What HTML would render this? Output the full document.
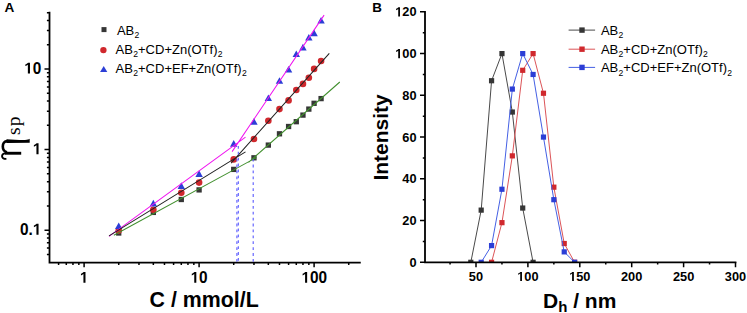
<!DOCTYPE html>
<html><head><meta charset="utf-8"><style>
html,body{margin:0;padding:0;background:#fff;}
body{width:747px;height:313px;overflow:hidden;}
svg{display:block;}
</style></head><body>
<svg width="747" height="313" viewBox="0 0 747 313">
<rect width="747" height="313" fill="#fff"/>
<path d="M49.50,12.66V262.60H359.86" fill="none" stroke="#000" stroke-width="1.8" stroke-linecap="square"/>
<path d="M49.50,254.46h-2.6 M49.50,248.08h-2.6 M49.50,242.69h-2.6 M49.50,238.01h-2.6 M49.50,233.89h-2.6 M49.50,230.20h-5.0 M49.50,205.94h-2.6 M49.50,191.74h-2.6 M49.50,181.67h-2.6 M49.50,173.86h-2.6 M49.50,167.48h-2.6 M49.50,162.09h-2.6 M49.50,157.41h-2.6 M49.50,153.29h-2.6 M49.50,149.60h-5.0 M49.50,125.34h-2.6 M49.50,111.14h-2.6 M49.50,101.07h-2.6 M49.50,93.26h-2.6 M49.50,86.88h-2.6 M49.50,81.49h-2.6 M49.50,76.81h-2.6 M49.50,72.69h-2.6 M49.50,69.00h-5.0 M49.50,44.74h-2.6 M49.50,30.54h-2.6 M49.50,20.47h-2.6 M49.50,12.66h-2.6 M58.59,262.60v2.4 M66.29,262.60v2.4 M72.96,262.60v2.4 M78.84,262.60v2.4 M84.10,262.60v4.6 M118.72,262.60v2.4 M138.97,262.60v2.4 M153.34,262.60v2.4 M164.48,262.60v2.4 M173.59,262.60v2.4 M181.29,262.60v2.4 M187.96,262.60v2.4 M193.84,262.60v2.4 M199.10,262.60v4.6 M233.72,262.60v2.4 M253.97,262.60v2.4 M268.34,262.60v2.4 M279.48,262.60v2.4 M288.59,262.60v2.4 M296.29,262.60v2.4 M302.96,262.60v2.4 M308.84,262.60v2.4 M314.10,262.60v4.6 M348.72,262.60v2.4" fill="none" stroke="#000" stroke-width="1.5"/>
<g font-family='"Liberation Sans", sans-serif' font-weight="bold" font-size="15.4" fill="#000">
<g transform="translate(0,73.60) scale(1,1.02) translate(0,-73.60)"><path d="M478,0V1165C390,1077 272,1017 140,979V1197C262,1243 420,1330 500,1430H759V0Z" transform="translate(24.27,73.60) scale(0.00752,-0.00752)"/><text x="32.84" y="73.60">0</text></g>
<g transform="translate(0,154.20) scale(1,1.02) translate(0,-154.20)"><path d="M478,0V1165C390,1077 272,1017 140,979V1197C262,1243 420,1330 500,1430H759V0Z" transform="translate(32.84,154.20) scale(0.00752,-0.00752)"/></g>
<g transform="translate(0,234.80) scale(1,1.02) translate(0,-234.80)"><text x="19.99" y="234.80">0.</text><path d="M478,0V1165C390,1077 272,1017 140,979V1197C262,1243 420,1330 500,1430H759V0Z" transform="translate(32.84,234.80) scale(0.00752,-0.00752)"/></g>
<g transform="translate(0,282.80) scale(1,1.02) translate(0,-282.80)"><path d="M478,0V1165C390,1077 272,1017 140,979V1197C262,1243 420,1330 500,1430H759V0Z" transform="translate(79.93,282.80) scale(0.00732,-0.00732)"/></g>
<g transform="translate(0,282.80) scale(1,1.02) translate(0,-282.80)"><path d="M478,0V1165C390,1077 272,1017 140,979V1197C262,1243 420,1330 500,1430H759V0Z" transform="translate(190.76,282.80) scale(0.00732,-0.00732)"/><text x="199.10" y="282.80">0</text></g>
<g transform="translate(0,282.80) scale(1,1.02) translate(0,-282.80)"><path d="M478,0V1165C390,1077 272,1017 140,979V1197C262,1243 420,1330 500,1430H759V0Z" transform="translate(301.59,282.80) scale(0.00732,-0.00732)"/><text x="309.93" y="282.80">00</text></g>
</g>
<text x="149.6" y="306.5" font-family='"Liberation Sans", sans-serif' font-weight="bold" font-size="21.35">C / mmol/L</text>
<text transform="translate(19.5,135) rotate(-90)" font-family='"Liberation Serif", serif' font-size="19.5" letter-spacing="1.2" fill="#000">sp</text>
<path d="M6.5,139.25C12,139.7 20,140.1 25,140C27.5,139.9 28.8,139.4 29.7,138.8L29.7,142.7L8,142.95L6.5,142.95Z" fill="#000"/><g fill="none" stroke="#000"><path d="M7.5,141.1C4,141.1 2.8,143.5 2.8,146.5C2.8,149.5 4.3,151.6 7,152.3" stroke-width="2.6"/><path d="M21.2,153.25L5,153.25" stroke-width="2.9"/><path d="M5.5,153.3C2.8,153.5 1.9,155 2.1,156.6C2.4,158.3 4,159 6.4,158.9" stroke-width="1.9"/></g>
<text x="4.4" y="11.8" font-family='"Liberation Sans", sans-serif' font-weight="bold" font-size="13.6">A</text>
<text x="372.2" y="11.8" font-family='"Liberation Sans", sans-serif' font-weight="bold" font-size="13.4">B</text>
<rect x="116.07" y="230.35" width="5.3" height="5.3" fill="#363636"/>
<rect x="150.69" y="209.75" width="5.3" height="5.3" fill="#363636"/>
<rect x="178.64" y="196.85" width="5.3" height="5.3" fill="#363636"/>
<rect x="196.45" y="187.25" width="5.3" height="5.3" fill="#363636"/>
<rect x="231.07" y="166.75" width="5.3" height="5.3" fill="#363636"/>
<rect x="251.32" y="155.15" width="5.3" height="5.3" fill="#363636"/>
<rect x="265.69" y="142.45" width="5.3" height="5.3" fill="#363636"/>
<rect x="276.83" y="131.15" width="5.3" height="5.3" fill="#363636"/>
<rect x="285.94" y="123.85" width="5.3" height="5.3" fill="#363636"/>
<rect x="293.64" y="119.05" width="5.3" height="5.3" fill="#363636"/>
<rect x="300.31" y="112.45" width="5.3" height="5.3" fill="#363636"/>
<rect x="306.19" y="106.45" width="5.3" height="5.3" fill="#363636"/>
<rect x="311.45" y="100.65" width="5.3" height="5.3" fill="#363636"/>
<rect x="318.43" y="95.95" width="5.3" height="5.3" fill="#363636"/>
<circle cx="118.72" cy="230.60" r="3.3" fill="#d0282d"/>
<circle cx="153.34" cy="209.80" r="3.3" fill="#d0282d"/>
<circle cx="181.29" cy="192.80" r="3.3" fill="#d0282d"/>
<circle cx="199.10" cy="182.60" r="3.3" fill="#d0282d"/>
<circle cx="233.72" cy="159.40" r="3.3" fill="#d0282d"/>
<circle cx="253.97" cy="139.00" r="3.3" fill="#d0282d"/>
<circle cx="268.34" cy="120.80" r="3.3" fill="#d0282d"/>
<circle cx="279.48" cy="109.10" r="3.3" fill="#d0282d"/>
<circle cx="288.59" cy="100.40" r="3.3" fill="#d0282d"/>
<circle cx="296.29" cy="90.00" r="3.3" fill="#d0282d"/>
<circle cx="302.96" cy="83.90" r="3.3" fill="#d0282d"/>
<circle cx="308.84" cy="77.70" r="3.3" fill="#d0282d"/>
<circle cx="314.10" cy="68.90" r="3.3" fill="#d0282d"/>
<circle cx="321.08" cy="61.00" r="3.3" fill="#d0282d"/>
<path d="M118.72,222.40L122.42,229.00H115.02Z" fill="#2c3ed6"/>
<path d="M153.34,199.80L157.04,206.40H149.64Z" fill="#2c3ed6"/>
<path d="M181.29,182.30L184.99,188.90H177.59Z" fill="#2c3ed6"/>
<path d="M199.10,170.30L202.80,176.90H195.40Z" fill="#2c3ed6"/>
<path d="M233.72,140.10L237.42,146.70H230.02Z" fill="#2c3ed6"/>
<path d="M253.97,118.10L257.67,124.70H250.27Z" fill="#2c3ed6"/>
<path d="M268.34,94.50L272.04,101.10H264.64Z" fill="#2c3ed6"/>
<path d="M279.48,77.20L283.18,83.80H275.78Z" fill="#2c3ed6"/>
<path d="M288.59,65.90L292.29,72.50H284.89Z" fill="#2c3ed6"/>
<path d="M296.29,50.50L299.99,57.10H292.59Z" fill="#2c3ed6"/>
<path d="M302.96,43.80L306.66,50.40H299.26Z" fill="#2c3ed6"/>
<path d="M308.84,33.90L312.54,40.50H305.14Z" fill="#2c3ed6"/>
<path d="M314.10,29.60L317.80,36.20H310.40Z" fill="#2c3ed6"/>
<path d="M321.08,17.00L324.78,23.60H317.38Z" fill="#2c3ed6"/>
<g fill="none" stroke-width="1.05">
<path d="M109,236.3L245.5,137.2M232.1,151.6L324.1,15.1" stroke="#f014f0"/>
<path d="M109,235.9L245.5,151.9M231.1,163.2L329.3,53.3" stroke="#222"/>
<path d="M113.8,235.3L256.5,157.5M248.5,162.4L339.8,82.0" stroke="#42902f"/>
</g>
<g stroke="#5a5aff" stroke-width="1.1" stroke-dasharray="2.8,3.1" stroke-dashoffset="5.1" fill="none">
<path d="M236.9,262.6V157.2"/>
<path d="M238.3,261.6V143.1"/>
<path d="M253.2,262.6V159.2"/>
</g>
<rect x="101.5" y="27.1" width="5" height="5" fill="#363636"/>
<circle cx="103.4" cy="50.1" r="3.2" fill="#d0282d"/>
<path d="M103.7,65.9L107.3,72.1H100.1Z" fill="#2c3ed6"/>
<text x="116.9" y="34.7" font-family='"Liberation Sans", sans-serif' font-size="13.0" fill="#000"><tspan>AB</tspan><tspan font-size="8.58" dy="3.1" dx="0.3">2</tspan><tspan dy="-3.1">&#8203;</tspan></text>
<text x="115.6" y="53.9" font-family='"Liberation Sans", sans-serif' font-size="13.0" fill="#000"><tspan>AB</tspan><tspan font-size="8.58" dy="3.1" dx="0.3">2</tspan><tspan dy="-3.1">&#8203;</tspan><tspan>+CD+Zn(OTf)</tspan><tspan font-size="8.58" dy="3.1" dx="0.3">2</tspan><tspan dy="-3.1">&#8203;</tspan></text>
<text x="115.6" y="73.3" font-family='"Liberation Sans", sans-serif' font-size="13.0" fill="#000"><tspan>AB</tspan><tspan font-size="8.58" dy="3.1" dx="0.3">2</tspan><tspan dy="-3.1">&#8203;</tspan><tspan>+CD+EF+Zn(OTf)</tspan><tspan font-size="8.58" dy="3.1" dx="0.3">2</tspan><tspan dy="-3.1">&#8203;</tspan></text>
<defs><clipPath id="cb"><rect x="425" y="0" width="320" height="262.3"/></clipPath></defs><g clip-path="url(#cb)">
<polyline points="470.81,262.30 481.19,210.12 491.57,80.73 501.95,53.60 512.33,112.04 522.71,208.04 533.09,262.30" fill="none" stroke="#4a4a4a" stroke-width="1"/>
<rect x="468.21" y="259.70" width="5.2" height="5.2" fill="#363636"/>
<rect x="478.59" y="207.53" width="5.2" height="5.2" fill="#363636"/>
<rect x="488.97" y="78.13" width="5.2" height="5.2" fill="#363636"/>
<rect x="499.35" y="51.00" width="5.2" height="5.2" fill="#363636"/>
<rect x="509.73" y="109.44" width="5.2" height="5.2" fill="#363636"/>
<rect x="520.11" y="205.44" width="5.2" height="5.2" fill="#363636"/>
<rect x="530.49" y="259.70" width="5.2" height="5.2" fill="#363636"/>
<polyline points="491.57,262.30 501.95,222.65 512.33,155.86 522.71,70.30 533.09,53.60 543.47,93.25 553.85,187.17 564.23,243.52 574.61,262.30" fill="none" stroke="#dc5458" stroke-width="1"/>
<rect x="488.97" y="259.70" width="5.2" height="5.2" fill="#d0282d"/>
<rect x="499.35" y="220.05" width="5.2" height="5.2" fill="#d0282d"/>
<rect x="509.73" y="153.26" width="5.2" height="5.2" fill="#d0282d"/>
<rect x="520.11" y="67.70" width="5.2" height="5.2" fill="#d0282d"/>
<rect x="530.49" y="51.00" width="5.2" height="5.2" fill="#d0282d"/>
<rect x="540.87" y="90.65" width="5.2" height="5.2" fill="#d0282d"/>
<rect x="551.25" y="184.57" width="5.2" height="5.2" fill="#d0282d"/>
<rect x="561.63" y="240.92" width="5.2" height="5.2" fill="#d0282d"/>
<rect x="572.01" y="259.70" width="5.2" height="5.2" fill="#d0282d"/>
<polyline points="481.19,262.30 491.57,245.60 501.95,189.25 512.33,89.08 522.71,53.60 533.09,74.47 543.47,137.08 553.85,199.69 564.23,251.87 574.61,262.30" fill="none" stroke="#4560e4" stroke-width="1"/>
<rect x="478.59" y="259.70" width="5.2" height="5.2" fill="#2c3ed6"/>
<rect x="488.97" y="243.00" width="5.2" height="5.2" fill="#2c3ed6"/>
<rect x="499.35" y="186.66" width="5.2" height="5.2" fill="#2c3ed6"/>
<rect x="509.73" y="86.48" width="5.2" height="5.2" fill="#2c3ed6"/>
<rect x="520.11" y="51.00" width="5.2" height="5.2" fill="#2c3ed6"/>
<rect x="530.49" y="71.87" width="5.2" height="5.2" fill="#2c3ed6"/>
<rect x="540.87" y="134.48" width="5.2" height="5.2" fill="#2c3ed6"/>
<rect x="551.25" y="197.09" width="5.2" height="5.2" fill="#2c3ed6"/>
<rect x="561.63" y="249.27" width="5.2" height="5.2" fill="#2c3ed6"/>
<rect x="572.01" y="259.70" width="5.2" height="5.2" fill="#2c3ed6"/>
</g>
<path d="M425.00,11.86V262.30H735.50" fill="none" stroke="#000" stroke-width="1.8" stroke-linecap="square"/>
<path d="M425.00,262.30h-5.0 M425.00,241.43h-2.2 M425.00,220.56h-5.0 M425.00,199.69h-2.2 M425.00,178.82h-5.0 M425.00,157.95h-2.2 M425.00,137.08h-5.0 M425.00,116.21h-2.2 M425.00,95.34h-5.0 M425.00,74.47h-2.2 M425.00,53.60h-5.0 M425.00,32.73h-2.2 M425.00,11.86h-5.0 M450.05,262.30v2.2 M476.00,262.30v4.9 M501.95,262.30v2.2 M527.90,262.30v4.9 M553.85,262.30v2.2 M579.80,262.30v4.9 M605.75,262.30v2.2 M631.70,262.30v4.9 M657.65,262.30v2.2 M683.60,262.30v4.9 M709.55,262.30v2.2 M735.50,262.30v4.9" fill="none" stroke="#000" stroke-width="1.5"/>
<g font-family='"Liberation Sans", sans-serif' font-weight="bold" font-size="12.8" fill="#000">
<g transform="translate(0,266.90) scale(1,1.03) translate(0,-266.90)"><text x="409.48" y="266.90">0</text></g>
<g transform="translate(0,225.16) scale(1,1.03) translate(0,-225.16)"><text x="402.36" y="225.16">20</text></g>
<g transform="translate(0,183.42) scale(1,1.03) translate(0,-183.42)"><text x="402.36" y="183.42">40</text></g>
<g transform="translate(0,141.68) scale(1,1.03) translate(0,-141.68)"><text x="402.36" y="141.68">60</text></g>
<g transform="translate(0,99.94) scale(1,1.03) translate(0,-99.94)"><text x="402.36" y="99.94">80</text></g>
<g transform="translate(0,58.20) scale(1,1.03) translate(0,-58.20)"><path d="M478,0V1165C390,1077 272,1017 140,979V1197C262,1243 420,1330 500,1430H759V0Z" transform="translate(395.24,58.20) scale(0.00625,-0.00625)"/><text x="402.36" y="58.20">00</text></g>
<g transform="translate(0,16.46) scale(1,1.03) translate(0,-16.46)"><path d="M478,0V1165C390,1077 272,1017 140,979V1197C262,1243 420,1330 500,1430H759V0Z" transform="translate(395.24,16.46) scale(0.00625,-0.00625)"/><text x="402.36" y="16.46">20</text></g>
<g transform="translate(0,281.10) scale(1,1.03) translate(0,-281.10)"><text x="468.88" y="281.10">50</text></g>
<g transform="translate(0,281.10) scale(1,1.03) translate(0,-281.10)"><path d="M478,0V1165C390,1077 272,1017 140,979V1197C262,1243 420,1330 500,1430H759V0Z" transform="translate(517.22,281.10) scale(0.00625,-0.00625)"/><text x="524.34" y="281.10">00</text></g>
<g transform="translate(0,281.10) scale(1,1.03) translate(0,-281.10)"><path d="M478,0V1165C390,1077 272,1017 140,979V1197C262,1243 420,1330 500,1430H759V0Z" transform="translate(569.12,281.10) scale(0.00625,-0.00625)"/><text x="576.24" y="281.10">50</text></g>
<g transform="translate(0,281.10) scale(1,1.03) translate(0,-281.10)"><text x="621.02" y="281.10">200</text></g>
<g transform="translate(0,281.10) scale(1,1.03) translate(0,-281.10)"><text x="672.92" y="281.10">250</text></g>
<g transform="translate(0,281.10) scale(1,1.03) translate(0,-281.10)"><text x="724.82" y="281.10">300</text></g>
</g>
<text transform="translate(387.6,137.4) rotate(-90)" text-anchor="middle" font-family='"Liberation Sans", sans-serif' font-weight="bold" font-size="21">Intensity</text>
<text x="543.0" y="308.1" font-family='"Liberation Sans", sans-serif' font-weight="bold" font-size="21">D<tspan font-size="15" dy="3.4">h</tspan><tspan dy="-3.4"> / nm</tspan></text>
<path d="M568.6,30.1H595.1" stroke="#4a4a4a" stroke-width="1" fill="none"/>
<rect x="579.3" y="27.40" width="5.4" height="5.4" fill="#363636"/>
<path d="M568.6,49.2H595.1" stroke="#dc5458" stroke-width="1" fill="none"/>
<rect x="579.3" y="46.50" width="5.4" height="5.4" fill="#d0282d"/>
<path d="M568.6,67.4H595.1" stroke="#4560e4" stroke-width="1" fill="none"/>
<rect x="579.3" y="64.70" width="5.4" height="5.4" fill="#2c3ed6"/>
<text x="600.9" y="35.3" font-family='"Liberation Sans", sans-serif' font-size="13.0" fill="#000"><tspan>AB</tspan><tspan font-size="8.58" dy="3.1" dx="0.3">2</tspan><tspan dy="-3.1">&#8203;</tspan></text>
<text x="600.9" y="54.0" font-family='"Liberation Sans", sans-serif' font-size="13.0" fill="#000"><tspan>AB</tspan><tspan font-size="8.58" dy="3.1" dx="0.3">2</tspan><tspan dy="-3.1">&#8203;</tspan><tspan>+CD+Zn(OTf)</tspan><tspan font-size="8.58" dy="3.1" dx="0.3">2</tspan><tspan dy="-3.1">&#8203;</tspan></text>
<text x="600.9" y="72.4" font-family='"Liberation Sans", sans-serif' font-size="13.0" fill="#000"><tspan>AB</tspan><tspan font-size="8.58" dy="3.1" dx="0.3">2</tspan><tspan dy="-3.1">&#8203;</tspan><tspan>+CD+EF+Zn(OTf)</tspan><tspan font-size="8.58" dy="3.1" dx="0.3">2</tspan><tspan dy="-3.1">&#8203;</tspan></text>
</svg>
</body></html>
